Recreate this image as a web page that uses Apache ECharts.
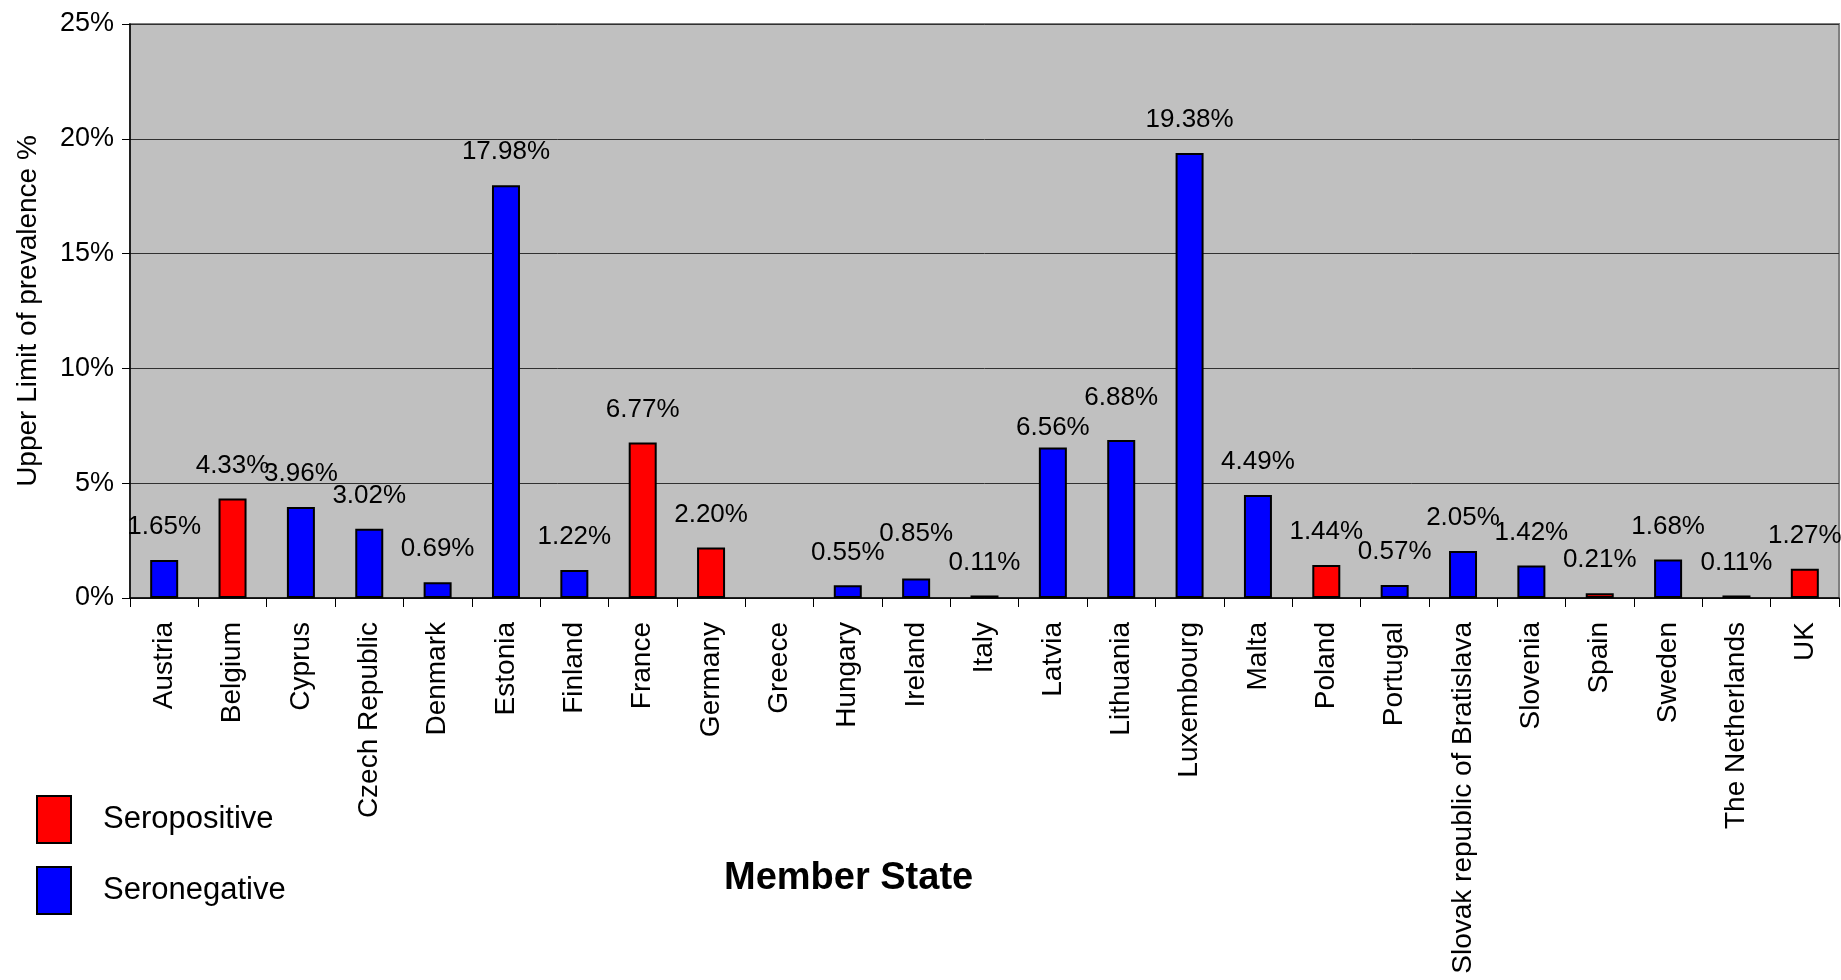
<!DOCTYPE html>
<html>
<head>
<meta charset="utf-8">
<title>Upper Limit of prevalence</title>
<script src="https://cdn.jsdelivr.net/npm/echarts@6/dist/echarts.min.js"></script>
<style>
    html, body { margin: 0; padding: 0; background: #fff; }
    #chart { width: 1841px; height: 980px; }
</style>
</head>
<body>
<div id="chart"></div>
<script>
    // member states, in the order they appear on the axis
    var states = ['Austria', 'Belgium', 'Cyprus', 'Czech Republic', 'Denmark', 'Estonia', 'Finland',
        'France', 'Germany', 'Greece', 'Hungary', 'Ireland', 'Italy', 'Latvia', 'Lithuania',
        'Luxembourg', 'Malta', 'Poland', 'Portugal', 'Slovak republic of Bratislava', 'Slovenia',
        'Spain', 'Sweden', 'The Netherlands', 'UK'];
    // upper limit of prevalence, % (Greece has no bar)
    var prevalence = [1.65, 4.33, 3.96, 3.02, 0.69, 17.98, 1.22, 6.77, 2.20, null, 0.55, 0.85, 0.11,
        6.56, 6.88, 19.38, 4.49, 1.44, 0.57, 2.05, 1.42, 0.21, 1.68, 0.11, 1.27];
    // 'P' = seropositive, 'N' = seronegative
    var seroStatus = ['N', 'P', 'N', 'N', 'N', 'N', 'N', 'P', 'P', 'N', 'N', 'N', 'N', 'N', 'N',
        'N', 'N', 'P', 'N', 'N', 'N', 'P', 'N', 'N', 'P'];
    var yTicks = [0, 5, 10, 15, 20, 25];

    var FONT = "'Liberation Sans', Arial, sans-serif";

    // a few labels were moved by hand in the original to keep them apart
    var labelNudge = {'Ireland': -12, 'Latvia': 13, 'Lithuania': -9};

    function pick(flag) {
        return prevalence.map(function (v, i) {
            if (seroStatus[i] !== flag || v === null) return '-';
            var dy = labelNudge[states[i]];
            return dy ? {value: v, label: {offset: [0, dy]}} : v;
        });
    }

    function barSeries(name, color, data) {
        return {
            name: name,
            type: 'bar',
            barWidth: 28,
            barGap: '-100%',
            data: data,
            itemStyle: {color: color, borderColor: '#000', borderWidth: 2},
            label: {
                show: true,
                position: 'top',
                distance: 20,
                color: '#000',
                fontFamily: FONT,
                fontSize: 26,
                formatter: function (p) {
                    return p.value.toFixed(2) + '%';
                }
            }
        };
    }

    var chart = echarts.init(document.getElementById('chart'));
    var option = {
        backgroundColor: '#fff',
        animation: false,
        textStyle: {fontFamily: FONT},
        grid: {
            left: 130, right: 2, top: 24, bottom: 382,
            show: true,
            backgroundColor: '#C0C0C0',
            borderColor: '#808080',
            borderWidth: 2
        },
        legend: {
            orient: 'vertical',
            left: 31,
            top: 790,
            itemWidth: 34,
            itemHeight: 47,
            itemGap: 22,
            icon: 'rect',
            textStyle: {color: '#000', fontSize: 31, fontFamily: FONT, padding: [0, 0, 0, 27]},
            data: ['Seropositive', 'Seronegative']
        },
        graphic: [{
            type: 'text',
            left: 724,
            top: 860,
            style: {
                text: 'Member State',
                fill: '#000',
                font: "bold 38px " + FONT
            }
        }],
        xAxis: {
            type: 'category',
            data: states,
            axisLine: {lineStyle: {color: '#000', width: 1.5}},
            axisTick: {show: true, length: 9, lineStyle: {color: '#000'}},
            axisLabel: {
                rotate: 90,
                interval: 0,
                margin: 24,
                color: '#000',
                fontSize: 28,
                fontFamily: FONT
            }
        },
        yAxis: {
            type: 'value',
            min: yTicks[0],
            max: yTicks[yTicks.length - 1],
            interval: 5,
            name: 'Upper Limit of prevalence %',
            nameLocation: 'middle',
            nameGap: 88,
            nameTextStyle: {color: '#000', fontSize: 28, fontFamily: FONT},
            axisLine: {show: true, lineStyle: {color: '#000', width: 1.5}},
            axisTick: {show: true, length: 8, lineStyle: {color: '#000'}},
            axisLabel: {
                color: '#000',
                fontSize: 27,
                fontFamily: FONT,
                margin: 16,
                formatter: '{value}%'
            },
            splitLine: {lineStyle: {color: '#303030', width: 1}}
        },
        series: [
            barSeries('Seropositive', '#FF0000', pick('P')),
            barSeries('Seronegative', '#0000FF', pick('N'))
        ]
    };
    chart.setOption(option);
</script>
</body>
</html>
